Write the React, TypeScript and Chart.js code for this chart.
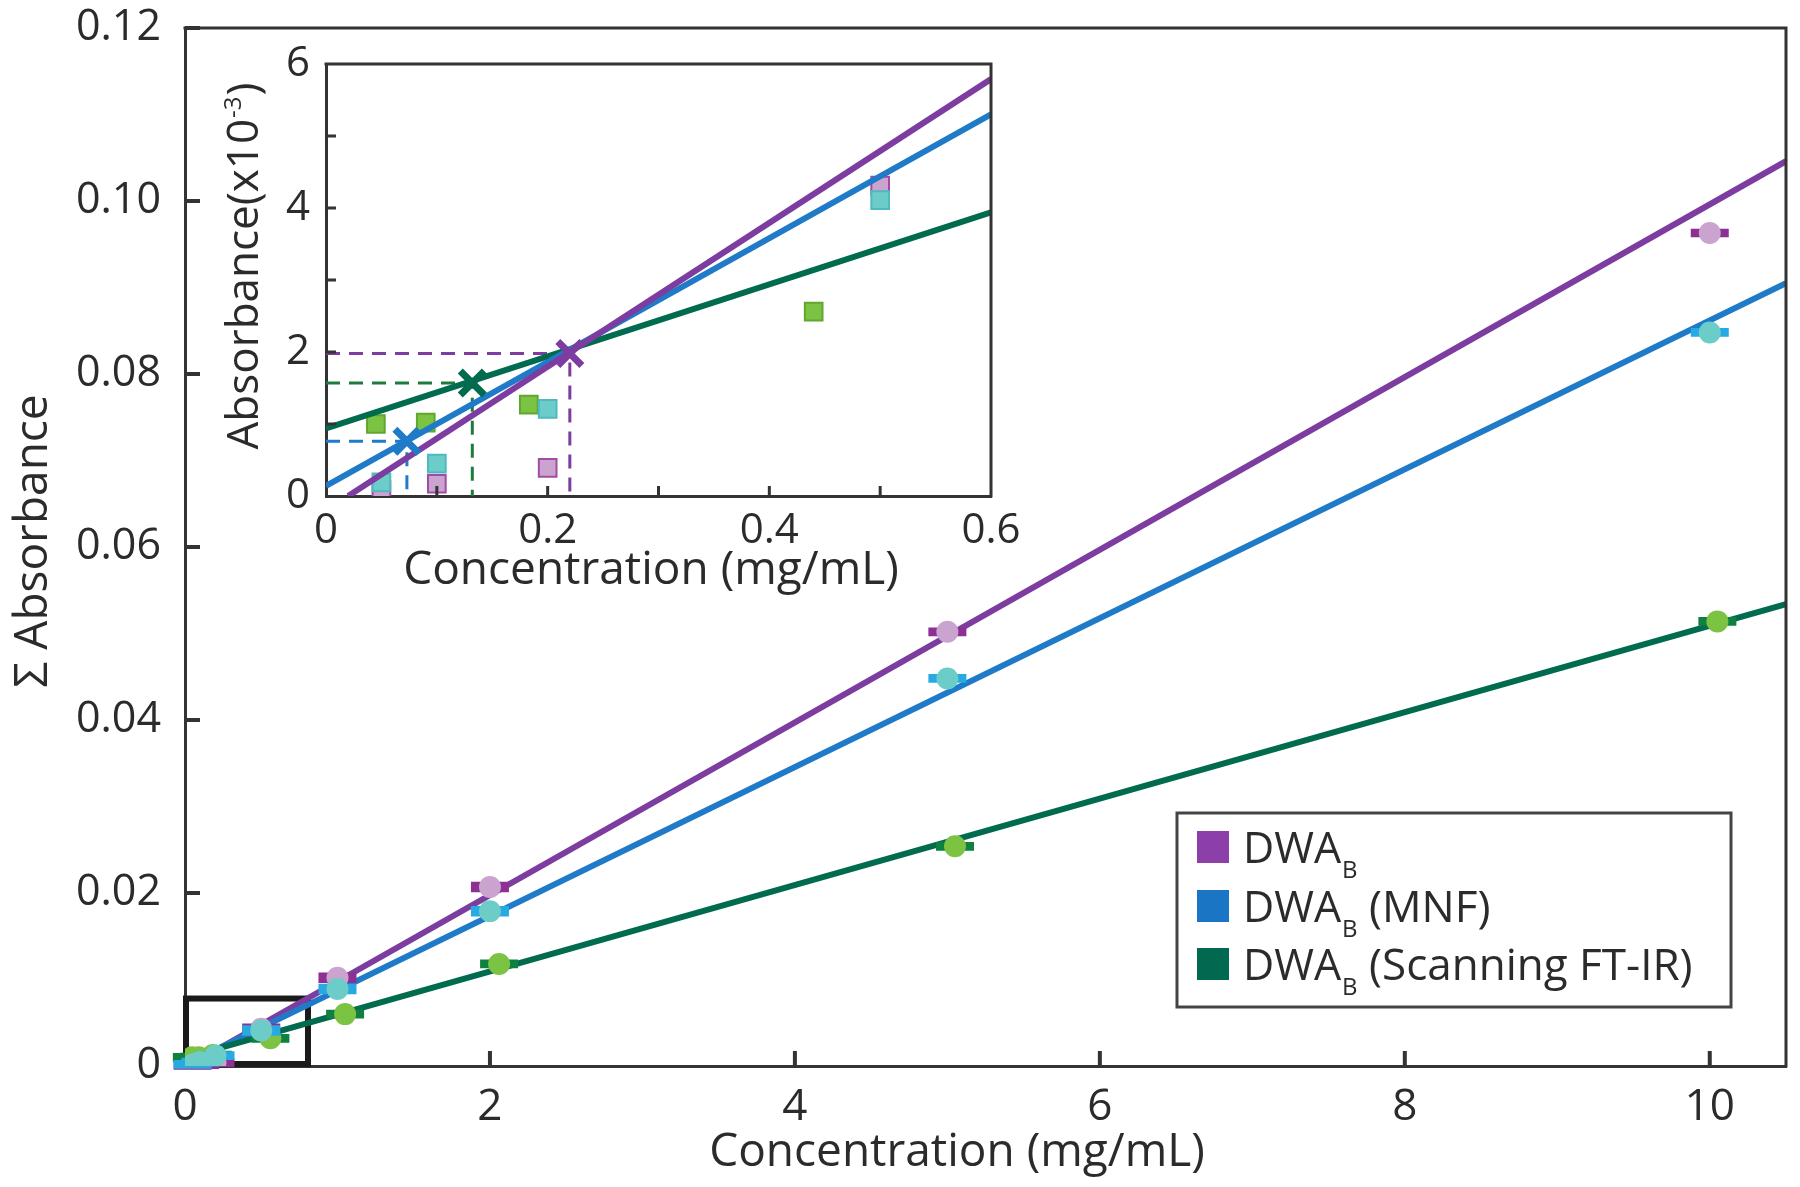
import React, { useEffect, useRef } from "react";
import { Chart, registerables } from "chart.js";

Chart.register(...registerables);

const FONT = "'Open Sans', 'DejaVu Sans', sans-serif";
const TEXT = "#2b2b2b";
const AXIS = "#333333";

// ---------- main chart data ----------
const mainXTicks = [0, 2, 4, 6, 8, 10];
const mainYTicks = [0, 0.02, 0.04, 0.06, 0.08, 0.1, 0.12];
const mainXTitle = "Concentration (mg/mL)";
const mainYTitle = "Σ Absorbance";

const dwaX = [0.05, 0.1, 0.2, 0.5, 1, 2, 5, 10];
const dwaY = [0.00008, 0.00017, 0.0004, 0.0043, 0.0102, 0.0207, 0.0502, 0.0963];
const dwaErr = [0.0001, 0.0001, 0.0001, 0.0002, 0.0002, 0.0002, 0.0001, 0.0001];

const mnfX = [0.05, 0.1, 0.2, 0.5, 1, 2, 5, 10];
const mnfY = [0.00019, 0.00045, 0.00121, 0.0041, 0.0089, 0.0179, 0.0448, 0.0848];
const mnfErr = [0.0001, 0.0001, 0.0001, 0.0002, 0.0002, 0.0002, 0.0001, 0.0001];

const ftirX = [0.045, 0.09, 0.183, 0.56, 1.05, 2.06, 5.05, 10.05];
const ftirY = [0.001, 0.00102, 0.00127, 0.0032, 0.006, 0.0118, 0.0254, 0.0514];
const ftirErr = [0.0001, 0.0001, 0.0001, 0.0001, 0.0001, 0.0001, 0.0001, 0.0001];

// fitted calibration lines (end points)
const dwaFitX = [0.02, 10.5];
const dwaFitY = [0, 0.1046];
const mnfFitX = [0, 10.5];
const mnfFitY = [0.00014, 0.0905];
const ftirFitX = [0, 10.5];
const ftirFitY = [0.00094, 0.0534];

// zoomed region marker
const zoomBoxX = [0, 0.8];
const zoomBoxY = [0, 0.0078];

// ---------- inset data (Absorbance x10^-3) ----------
const insetXTicks = [0, 0.1, 0.2, 0.3, 0.4, 0.5, 0.6];
const insetYTicks = [0, 1, 2, 3, 4, 5, 6];
const insetXTitle = "Concentration (mg/mL)";
const insetYTitle = ["Absorbance(x10", "-3", ")"];

const insetDwaX = [0.05, 0.1, 0.2, 0.5];
const insetDwaY = [0.08, 0.17, 0.39, 4.31];
const insetMnfX = [0.05, 0.1, 0.2, 0.5];
const insetMnfY = [0.19, 0.45, 1.21, 4.11];
const insetFtirX = [0.045, 0.09, 0.183, 0.44];
const insetFtirY = [1.0, 1.02, 1.27, 2.56];

const insetDwaFitX = [0.02, 0.6];
const insetDwaFitY = [0, 5.79];
const insetMnfFitX = [0, 0.6];
const insetMnfFitY = [0.14, 5.3];
const insetFtirFitX = [0, 0.6];
const insetFtirFitY = [0.94, 3.94];

// limits of detection (DWA_B, MNF, FT-IR)
const lodX = [0.22, 0.073, 0.132];
const lodY = [1.98, 0.76, 1.57];

const legendSuffix = ["", " (MNF)", " (Scanning FT-IR)"];

// ---------- colours ----------
const C = {
  dwaLine: "#7d3ca0",
  mnfLine: "#1f7bc8",
  ftirLine: "#006b4e",
  dwaPt: "#cba3cf",
  mnfPt: "#6ccdc8",
  ftirPt: "#7cc243",
  dwaCap: "#8e2f93",
  mnfCap: "#27aae1",
  ftirCap: "#0e8040",
  legend: ["#8c3fa8", "#1b75c5", "#00694f"],
};

const pts = (xs: number[], ys: number[]) => xs.map((x, i) => ({ x, y: ys[i] }));

function frameAndTicks(chart: any, xt: number[], yt: number[], len: number, w: number) {
  const { ctx, chartArea, scales } = chart;
  const { left, right, top, bottom } = chartArea;
  ctx.save();
  ctx.strokeStyle = AXIS;
  ctx.lineWidth = w;
  ctx.beginPath();
  xt.forEach((v) => {
    const px = scales.x.getPixelForValue(v);
    ctx.moveTo(px, bottom);
    ctx.lineTo(px, bottom - len);
  });
  yt.forEach((v) => {
    const py = scales.y.getPixelForValue(v);
    ctx.moveTo(left, py);
    ctx.lineTo(left + len, py);
  });
  ctx.stroke();
  ctx.lineWidth = 3;
  ctx.beginPath();
  ctx.moveTo(left - 1.5, top);
  ctx.lineTo(right, top);
  ctx.lineTo(right, bottom + 1.5);
  ctx.stroke();
  ctx.restore();
}

const mainPlugin = {
  id: "mainDecor",
  beforeDatasetsDraw(chart: any) {
    const { ctx, scales } = chart;
    const x0 = scales.x.getPixelForValue(zoomBoxX[0]);
    const x1 = scales.x.getPixelForValue(zoomBoxX[1]);
    const y0 = scales.y.getPixelForValue(zoomBoxY[0]);
    const y1 = scales.y.getPixelForValue(zoomBoxY[1]);
    ctx.save();
    ctx.strokeStyle = "#1a1a1a";
    ctx.lineWidth = 6;
    ctx.strokeRect(x0 + 1, y1, x1 - x0, y0 - y1 - 2);
    ctx.restore();
  },
  beforeDatasetDraw(chart: any, args: any) {
    const ds = chart.data.datasets[args.index];
    if (!ds.errY) return;
    const { ctx, scales } = chart;
    ctx.save();
    ctx.strokeStyle = ds.capColor;
    ctx.lineWidth = 7;
    ctx.beginPath();
    ds.data.forEach((p: any, i: number) => {
      const px = scales.x.getPixelForValue(p.x);
      const ya = scales.y.getPixelForValue(p.y + ds.errY[i]);
      const yb = scales.y.getPixelForValue(p.y - ds.errY[i]);
      ctx.moveTo(px - 19, ya);
      ctx.lineTo(px + 19, ya);
      ctx.moveTo(px - 19, yb);
      ctx.lineTo(px + 19, yb);
      ctx.moveTo(px, ya);
      ctx.lineTo(px, yb);
    });
    ctx.stroke();
    ctx.restore();
  },
  afterDraw(chart: any) {
    frameAndTicks(chart, mainXTicks.slice(1), mainYTicks.slice(1), 15, 4);
    const { ctx } = chart;
    ctx.save();
    // axis titles
    ctx.fillStyle = TEXT;
    ctx.textAlign = "center";
    ctx.textBaseline = "middle";
    ctx.font = `46px ${FONT}`;
    ctx.fillText(mainXTitle, 957, 1153);
    ctx.save();
    ctx.translate(34, 541);
    ctx.rotate(-Math.PI / 2);
    ctx.fillText(mainYTitle, 0, 0);
    ctx.restore();
    // legend
    ctx.strokeStyle = "#444";
    ctx.lineWidth = 3;
    ctx.strokeRect(1177, 813, 554, 194);
    const rows = [847, 906, 964];
    rows.forEach((cy, i) => {
      ctx.fillStyle = C.legend[i];
      ctx.fillRect(1197, cy - 16, 32, 32);
      ctx.fillStyle = TEXT;
      ctx.textBaseline = "alphabetic";
      ctx.textAlign = "left";
      ctx.font = `43px ${FONT}`;
      let tx = 1243;
      const base = cy + 16;
      ctx.fillText("DWA", tx, base);
      tx += ctx.measureText("DWA").width + 1;
      ctx.font = `24px ${FONT}`;
      ctx.fillText("B", tx, base + 15);
      tx += ctx.measureText("B").width;
      ctx.font = `44px ${FONT}`;
      ctx.fillText(legendSuffix[i], tx, base);
    });
    ctx.restore();
  },
};

const insetPlugin = {
  id: "insetDecor",
  afterDraw(chart: any) {
    frameAndTicks(chart, insetXTicks.slice(1, -1), insetYTicks.slice(1, -1), 10, 3);
    const { ctx } = chart;
    ctx.save();
    ctx.fillStyle = TEXT;
    ctx.textAlign = "center";
    ctx.textBaseline = "middle";
    ctx.font = `46px ${FONT}`;
    ctx.fillText(insetXTitle, 451, 541);
    // rotated y title with superscript
    ctx.translate(43, 236);
    ctx.rotate(-Math.PI / 2);
    ctx.textAlign = "left";
    ctx.textBaseline = "alphabetic";
    ctx.font = `44px ${FONT}`;
    const w0 = ctx.measureText(insetYTitle[0]).width;
    const w2 = ctx.measureText(insetYTitle[2]).width;
    ctx.font = `24px ${FONT}`;
    const w1 = ctx.measureText(insetYTitle[1]).width;
    let tx = -(w0 + w1 + w2 + 2) / 2;
    const base = 15;
    ctx.font = `44px ${FONT}`;
    ctx.fillText(insetYTitle[0], tx, base);
    tx += w0 + 1;
    ctx.font = `24px ${FONT}`;
    ctx.fillText(insetYTitle[1], tx, base - 17);
    tx += w1 + 1;
    ctx.font = `44px ${FONT}`;
    ctx.fillText(insetYTitle[2], tx, base);
    ctx.restore();
  },
};

function mainConfig(): any {
  const pointDs = (xs: number[], ys: number[], errs: number[], fill: string, cap: string) => ({
    data: pts(xs, ys),
    errY: errs,
    capColor: cap,
    showLine: false,
    pointRadius: 11,
    pointBackgroundColor: fill,
    pointBorderWidth: 0,
  });
  const lineDs = (xs: number[], ys: number[], color: string) => ({
    data: pts(xs, ys),
    showLine: true,
    borderColor: color,
    borderWidth: 6,
    pointRadius: 0,
  });
  return {
    type: "scatter",
    data: {
      datasets: [
        pointDs(mnfX, mnfY, mnfErr, C.mnfPt, C.mnfCap),
        pointDs(dwaX, dwaY, dwaErr, C.dwaPt, C.dwaCap),
        pointDs(ftirX, ftirY, ftirErr, C.ftirPt, C.ftirCap),
        lineDs(ftirFitX, ftirFitY, C.ftirLine),
        lineDs(mnfFitX, mnfFitY, C.mnfLine),
        lineDs(dwaFitX, dwaFitY, C.dwaLine),
      ],
    },
    options: {
      animation: false,
      responsive: false,
      maintainAspectRatio: false,
      layout: { padding: { left: 0, top: 28, right: 14, bottom: 0 } },
      plugins: { legend: { display: false }, tooltip: { enabled: false } },
      scales: {
        x: {
          type: "linear",
          min: 0,
          max: 10.5,
          afterBuildTicks: (s: any) => {
            s.ticks = mainXTicks.map((v) => ({ value: v }));
          },
          afterFit: (s: any) => {
            s.height = 121;
            s.paddingLeft = 0;
            s.paddingRight = 0;
          },
          grid: { display: false, drawTicks: false },
          border: { display: true, color: AXIS, width: 3 },
          ticks: {
            padding: 15,
            color: TEXT,
            font: { family: FONT, size: 44 },
            maxRotation: 0,
            autoSkip: false,
            callback: (v: number) => String(v),
          },
        },
        y: {
          type: "linear",
          min: 0,
          max: 0.12,
          afterBuildTicks: (s: any) => {
            s.ticks = mainYTicks.map((v) => ({ value: v }));
          },
          afterFit: (s: any) => {
            s.width = 185;
            s.paddingTop = 0;
            s.paddingBottom = 0;
          },
          grid: { display: false, drawTicks: false },
          border: { display: true, color: AXIS, width: 3 },
          ticks: {
            padding: 24,
            color: TEXT,
            font: { family: FONT, size: 43 },
            autoSkip: false,
            callback: (v: number) => (v === 0 ? "0" : v.toFixed(2)),
          },
        },
      },
    },
    plugins: [mainPlugin],
  };
}

function insetConfig(): any {
  const sq = (xs: number[], ys: number[], fill: string, border: string) => ({
    data: pts(xs, ys),
    showLine: false,
    pointStyle: "rect",
    pointRadius: 12.5,
    pointBackgroundColor: fill,
    pointBorderColor: border,
    pointBorderWidth: 2,
  });
  const lineDs = (xs: number[], ys: number[], color: string) => ({
    data: pts(xs, ys),
    showLine: true,
    borderColor: color,
    borderWidth: 6,
    pointRadius: 0,
  });
  const guide = (i: number, color: string) => ({
    data: [
      { x: 0, y: lodY[i] },
      { x: lodX[i], y: lodY[i] },
      { x: lodX[i], y: 0 },
    ],
    showLine: true,
    borderColor: color,
    borderWidth: 3,
    borderDash: [14, 9],
    pointRadius: 0,
  });
  return {
    type: "scatter",
    data: {
      datasets: [
        {
          data: pts(lodX, lodY),
          showLine: false,
          pointStyle: "crossRot",
          pointRadius: 17,
          pointBorderWidth: 7,
          pointBorderColor: [C.dwaLine, C.mnfLine, C.ftirLine],
        },
        lineDs(insetDwaFitX, insetDwaFitY, C.dwaLine),
        lineDs(insetMnfFitX, insetMnfFitY, C.mnfLine),
        lineDs(insetFtirFitX, insetFtirFitY, C.ftirLine),
        sq(insetMnfX, insetMnfY, C.mnfPt, "#4fb8c0"),
        sq(insetDwaX, insetDwaY, C.dwaPt, "#a24ba6"),
        sq(insetFtirX, insetFtirY, C.ftirPt, "#5fa82e"),
        guide(0, C.dwaLine),
        guide(1, C.mnfLine),
        guide(2, "#1f7a3e"),
      ],
    },
    options: {
      animation: false,
      responsive: false,
      maintainAspectRatio: false,
      layout: { padding: { left: 0, top: 34, right: 49, bottom: 0 } },
      plugins: { legend: { display: false }, tooltip: { enabled: false } },
      scales: {
        x: {
          type: "linear",
          min: 0,
          max: 0.6,
          afterBuildTicks: (s: any) => {
            s.ticks = insetXTicks.map((v) => ({ value: v }));
          },
          afterFit: (s: any) => {
            s.height = 114;
            s.paddingLeft = 0;
            s.paddingRight = 0;
          },
          grid: { display: false, drawTicks: false },
          border: { display: true, color: AXIS, width: 3 },
          ticks: {
            padding: 10,
            color: TEXT,
            font: { family: FONT, size: 42 },
            maxRotation: 0,
            autoSkip: false,
            callback: (v: number) => {
              const k = Math.round(v * 10);
              return k % 2 === 0 ? (k === 0 ? "0" : (k / 10).toFixed(1)) : "";
            },
          },
        },
        y: {
          type: "linear",
          min: 0,
          max: 6,
          afterBuildTicks: (s: any) => {
            s.ticks = insetYTicks.map((v) => ({ value: v }));
          },
          afterFit: (s: any) => {
            s.width = 126;
            s.paddingTop = 0;
            s.paddingBottom = 0;
          },
          grid: { display: false, drawTicks: false },
          border: { display: true, color: AXIS, width: 3 },
          ticks: {
            padding: 16,
            color: TEXT,
            font: { family: FONT, size: 42 },
            autoSkip: false,
            callback: (v: number) => (Math.round(v) % 2 === 0 ? String(Math.round(v)) : ""),
          },
        },
      },
    },
    plugins: [insetPlugin],
  };
}

export default function App() {
  const mainRef = useRef<HTMLCanvasElement>(null);
  const insetRef = useRef<HTMLCanvasElement>(null);
  useEffect(() => {
    const main = new Chart(mainRef.current as HTMLCanvasElement, mainConfig());
    const inset = new Chart(insetRef.current as HTMLCanvasElement, insetConfig());
    return () => {
      main.destroy();
      inset.destroy();
    };
  }, []);
  return (
    <div style={{ position: "absolute", left: 0, top: 0, width: 1800, height: 1187, background: "#ffffff" }}>
      <canvas ref={mainRef} width={1800} height={1187} style={{ position: "absolute", left: 0, top: 0 }} />
      <canvas ref={insetRef} width={840} height={580} style={{ position: "absolute", left: 200, top: 30 }} />
    </div>
  );
}
